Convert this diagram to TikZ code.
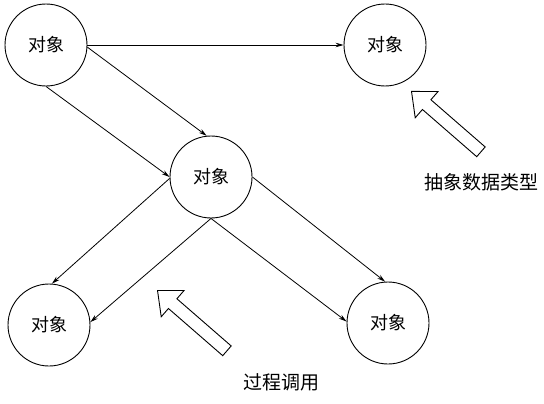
\documentclass[tikz,border=0pt]{standalone}
\usepackage{fontspec}
\newfontfamily\cjk{Noto Sans CJK SC}
\usetikzlibrary{arrows.meta,shapes.arrows}

\begin{document}
\begin{tikzpicture}[
  x=1pt,y=-1pt,
  font=\cjk\fontsize{18}{20}\selectfont,
  >={Stealth[length=8pt,width=4.5pt]},
  obj/.style={draw,circle,line width=0.9pt,minimum size=82pt,inner sep=0pt},
  call/.style={->,line width=0.8pt},
  hollow/.style={draw,fill=white,line width=0.9pt,single arrow,inner sep=0pt,
    text height=12pt,text depth=0pt,minimum height=92pt,
    single arrow head extend=11pt,single arrow tip angle=82,
    rotate=139,anchor=tip},
  note/.style={font=\cjk\fontsize{19}{21}\selectfont}
]
\useasboundingbox (0,0) rectangle (544,404);

\node[obj] (tl) at (46,45) {对象};
\node[obj] (tr) at (385,45) {对象};
\node[obj] (mid) at (211,177) {对象};
\node[obj] (bl) at (49,325) {对象};
\node[obj] (br) at (388,323) {对象};

\draw[call] (tl.east) -- (tr.west);
\draw[call] (tl.-3) -- (mid.96);
\draw[call] (tl.south) -- (mid.west);
\draw[call] (mid.182) -- (bl.86);
\draw[call] (mid.south) -- (bl.4);
\draw[call] (mid.east) -- (br.94);
\draw[call] (mid.south) -- (br.178);

\node[hollow] (adt) at (411,91) {};
\node[hollow] (proc) at (157,290) {};

\node[note] (adtlabel) at (481,182) {抽象数据类型};
\node[note] (proclabel) at (281,382) {过程调用};
\end{tikzpicture}
\end{document}
